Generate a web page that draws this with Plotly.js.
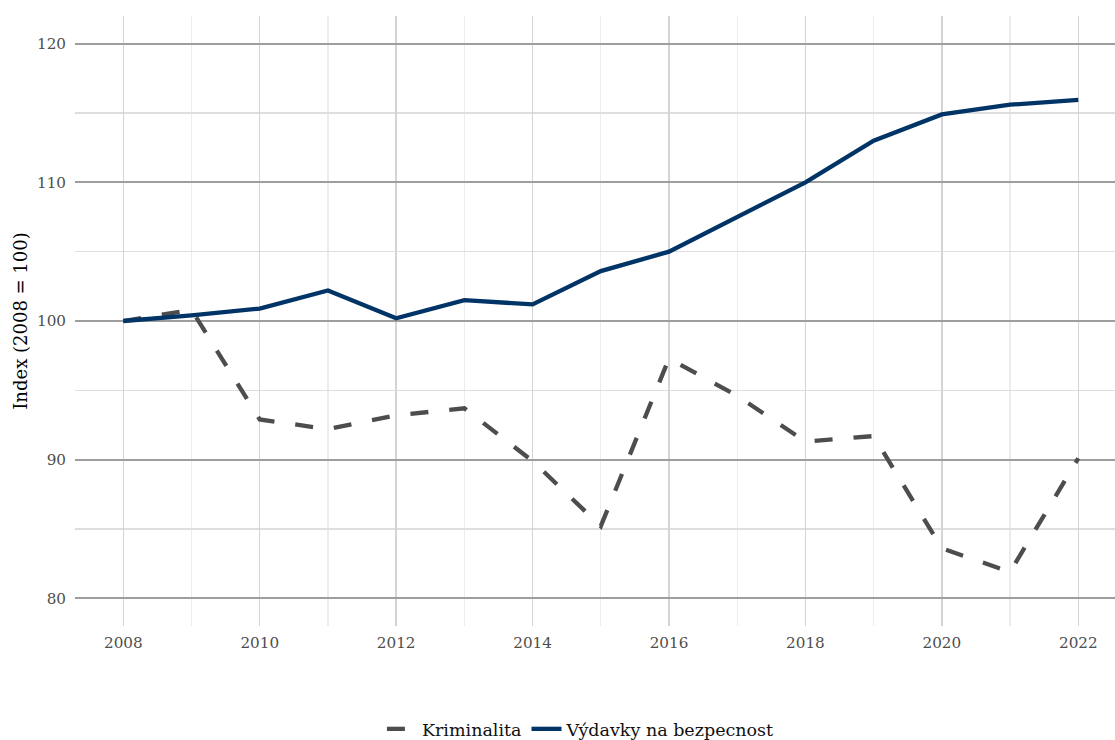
<!DOCTYPE html>
<html>
<head>
<meta charset="utf-8">
<script src="https://cdn.plot.ly/plotly-3.0.1.min.js"></script>
<style>html,body{margin:0;padding:0;background:#fff;}#chart{width:1115px;height:740px;}</style>
</head>
<body>
<div id="chart"></div>
<script>
const years = [2008, 2009, 2010, 2011, 2012, 2013, 2014, 2015, 2016, 2017, 2018, 2019, 2020, 2021, 2022];
const kriminalita = [100, 100.8, 92.9, 92.2, 93.2, 93.7, 89.9, 85.2, 97.3, 94.6, 91.3, 91.7, 83.6, 81.9, 90.1];
const vydavky = [100, 100.4, 100.9, 102.2, 100.2, 101.5, 101.2, 103.6, 105.0, 107.5, 110.0, 113.0, 114.9, 115.6, 115.95];
const seriesNames = ["Kriminalita", "Výdavky na bezpecnost"];
const xTickVals = [2008, 2010, 2012, 2014, 2016, 2018, 2020, 2022];
const yTickVals = [80, 90, 100, 110, 120];

const FONT = "DejaVu Serif, serif";

const traces = [
  {
    x: years, y: kriminalita, name: seriesNames[0], type: "scatter", mode: "lines",
    line: {color: "#4d4d4d", width: 4.3, dash: "18px,21px"}
  },
  {
    x: years, y: vydavky, name: seriesNames[1], type: "scatter", mode: "lines",
    line: {color: "#003366", width: 4.3}
  }
];

const layout = {
  width: 1115, height: 740,
  margin: {l: 75, r: 0, t: 16, b: 114, autoexpand: false},
  paper_bgcolor: "#ffffff", plot_bgcolor: "#ffffff",
  font: {family: FONT, color: "#4d4d4d"},
  showlegend: true,
  legend: {
    orientation: "h", xref: "container", x: 0.521, xanchor: "center",
    yref: "container", y: 0.0149, yanchor: "middle",
    font: {family: FONT, size: 17.5, color: "#111111"}, itemwidth: 30, traceorder: "normal"
  },
  xaxis: {
    range: [2007.292, 2022.538], tickvals: xTickVals, ticktext: xTickVals.map(String),
    showgrid: true, gridcolor: "#d4d4d4", gridwidth: 1.5,
    minor: {dtick: 1, tick0: 2008, showgrid: true, gridcolor: "#ececec", gridwidth: 1.2},
    zeroline: false, showline: false, ticks: "", ticklabelstandoff: 6,
    tickfont: {family: FONT, size: 15.2, color: "#4d4d4d"}
  },
  yaxis: {
    range: [78, 122], tickvals: yTickVals, ticktext: yTickVals.map(String),
    showgrid: true, gridcolor: "#9e9e9e", gridwidth: 2,
    minor: {dtick: 5, tick0: 80, showgrid: true, gridcolor: "#dedede", gridwidth: 1.5},
    zeroline: false, showline: false, ticks: "", ticklabelstandoff: 8,
    tickfont: {family: FONT, size: 15.2, color: "#4d4d4d"},
    title: {text: "Index (2008 = 100)", font: {family: FONT, size: 18, color: "#000000"}, standoff: 4}
  }
};

Plotly.newPlot("chart", traces, layout, {staticPlot: true, displayModeBar: false});
</script>
</body>
</html>
